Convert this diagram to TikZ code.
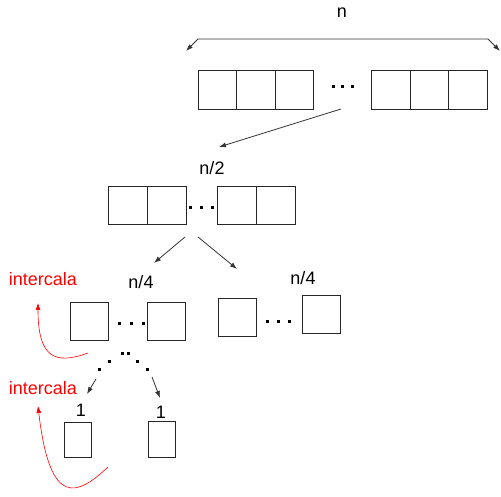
\documentclass[tikz,border=0pt]{standalone}
\usepackage{fontspec}
\setmainfont{Liberation Sans}
\usetikzlibrary{arrows.meta}
\begin{document}
\begin{tikzpicture}[x=1pt,y=-1pt,
  cell/.style={draw=black!85,line width=0.9pt,inner sep=0pt,minimum width=#1,minimum height=39pt},
  cell/.default=38.7pt,
  lbl/.style={font=\fontsize{18}{20}\selectfont,inner sep=0pt},
  rlbl/.style={lbl,text=red},
  conn/.style={draw=black!80,line width=0.8pt,-{Latex[length=7pt,width=5pt]}},
  rconn/.style={draw=red,line width=0.6pt,-{Latex[length=7pt,width=5pt]}},
  dotm/.style={fill=black,inner sep=0pt,minimum size=3pt}]
\useasboundingbox (0,0) rectangle (501,497);
% top label and brace
\node[lbl] (ln) at (342,13) {n};
\coordinate (bl) at (186,51);
\coordinate (br) at (500,51);
\draw[draw=black!80,line width=0.8pt,{Latex[length=7pt,width=5pt]}-{Latex[length=7pt,width=5pt]}] (bl) -- (198,39) -- (488,39) -- (br);
% top row
\node[cell] (t1) at (217.5,89.5) {};
\node[cell] (t2) at (256,89.5) {};
\node[cell] (t3) at (294.5,89.5) {};
\node[cell] (t4) at (391,89.5) {};
\node[cell] (t5) at (429.5,89.5) {};
\node[cell] (t6) at (468,89.5) {};
\node[dotm] (td1) at (333,87) {};
\node[dotm] (td2) at (342.5,87) {};
\node[dotm] (td3) at (352,87) {};
% n/2 row
\node[lbl] (ln2) at (212,168) {n/2};
\node[cell=39pt,minimum height=38pt] (h1) at (127.5,205) {};
\node[cell=39pt,minimum height=38pt] (h2) at (166.5,205) {};
\node[cell=39pt,minimum height=38pt] (h3) at (236.5,205) {};
\node[cell=39pt,minimum height=38pt] (h4) at (275.5,205) {};
\node[dotm] (hd1) at (190,208) {};
\node[dotm] (hd2) at (201,208) {};
\node[dotm] (hd3) at (212,208) {};
\coordinate (a1s) at (341,109);
\coordinate (a1e) at (219,147);
\draw[conn] (a1s) -- (a1e);
% n/4 row
\coordinate (a2s) at (185,237);
\coordinate (a2e) at (154,263);
\coordinate (a3s) at (198,237);
\coordinate (a3e) at (237,269);
\draw[conn] (a2s) -- (a2e);
\draw[conn] (a3s) -- (a3e);
\node[lbl] (ln4a) at (141,282) {n/4};
\node[lbl] (ln4b) at (303,278) {n/4};
\node[cell=38pt,minimum height=38pt] (q1) at (89,321) {};
\node[cell=38pt,minimum height=38pt] (q2) at (166.5,321) {};
\node[cell=38pt,minimum height=38pt] (q3) at (237,317.5) {};
\node[cell=38pt,minimum height=38pt] (q4) at (321,314) {};
\node[dotm] (qd1) at (119,323) {};
\node[dotm] (qd2) at (131,323) {};
\node[dotm] (qd3) at (143,323) {};
\node[dotm] (qd4) at (267,321) {};
\node[dotm] (qd5) at (278,321) {};
\node[dotm] (qd6) at (289,321) {};
% intercala 1
\node[rlbl] (ic1) at (43,279) {intercala};
\coordinate (r1s) at (88,353);
\coordinate (r1e) at (38,303);
\draw[rconn] (r1s) .. controls (55,365) and (38,358) .. (r1e);
% dotted descent
\node[dotm] (bd1) at (99,369) {};
\node[dotm] (bd2) at (109,361) {};
\node[dotm] (bd3) at (122,353) {};
\node[dotm] (bd4) at (128,353) {};
\node[dotm] (bd5) at (137,361) {};
\node[dotm] (bd6) at (147,369) {};
\coordinate (a4s) at (96,379);
\coordinate (a4e) at (87,394);
\coordinate (a5s) at (152,377);
\coordinate (a5e) at (160,398);
\draw[conn] (a4s) -- (a4e);
\draw[conn] (a5s) -- (a5e);
% intercala 2
\node[rlbl] (ic2) at (43,388) {intercala};
\node[lbl] (l1a) at (81,410) {1};
\node[lbl] (l1b) at (161,412) {1};
\node[cell=27pt,minimum height=35pt] (u1) at (77.5,439.5) {};
\node[cell=27pt,minimum height=36pt] (u2) at (161.5,439) {};
\coordinate (r2s) at (108,467);
\coordinate (r2e) at (38,406);
\draw[rconn] (r2s) .. controls (78,495) and (50,510) .. (r2e);
\end{tikzpicture}
\end{document}
